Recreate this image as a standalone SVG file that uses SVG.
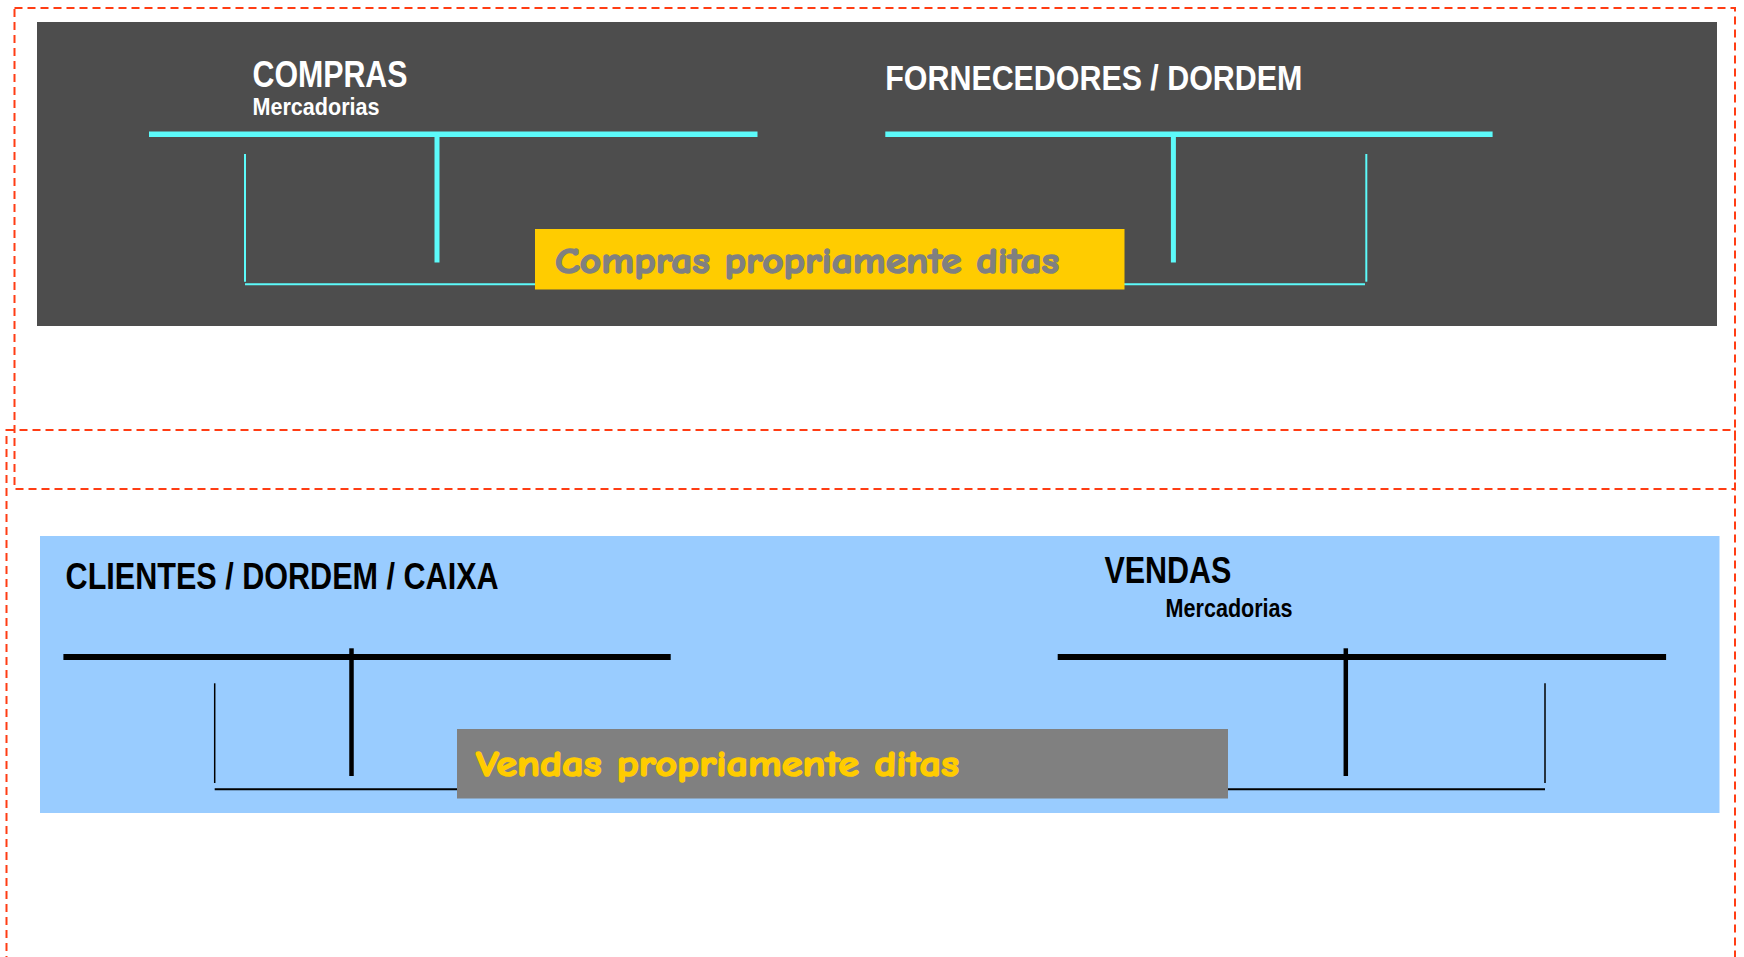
<svg xmlns="http://www.w3.org/2000/svg" width="1744" height="957" viewBox="0 0 1744 957">
<style>
.dash{fill:none;stroke:#FF3D14;stroke-width:2;stroke-dasharray:8 5}
.title{font-family:"Liberation Sans Narrow","Liberation Sans",Arial,sans-serif;font-weight:bold}
.w{fill:#FFFFFF}
.k{fill:#000000}
.cy{stroke:#5CFAFA;fill:none}
.bk{stroke:#000000;fill:none}
.lbl{font-family:"Comic Sans MS","Comic Neue","DejaVu Sans",sans-serif;font-weight:bold;stroke-width:1.6;stroke-linejoin:round}
</style>
<rect width="1744" height="957" fill="#FFFFFF"/>
<g id="frames">
<rect class="dash" x="14.5" y="8" width="1720.5" height="481"/>
<rect class="dash" x="6.5" y="430" width="1728.5" height="560"/>
</g>
<g id="compras-panel">
<rect x="37" y="22" width="1680" height="304" fill="#4D4D4D"/>
</g>
<g id="vendas-panel">
<rect x="40" y="536" width="1679.5" height="277" fill="#99CCFF"/>
</g>
<g id="connectors">
<line class="cy" x1="149" y1="134.3" x2="757.5" y2="134.3" stroke-width="5.5"/>
<line class="cy" x1="437" y1="134" x2="437" y2="262.5" stroke-width="5"/>
<line class="cy" x1="885.3" y1="134.3" x2="1492.6" y2="134.3" stroke-width="5.5"/>
<line class="cy" x1="1173.4" y1="134" x2="1173.4" y2="262.5" stroke-width="5"/>
<line class="cy" x1="245" y1="154" x2="245" y2="281.7" stroke-width="2"/>
<line class="cy" x1="245" y1="284.3" x2="536" y2="284.3" stroke-width="2"/>
<line class="cy" x1="1366.3" y1="154" x2="1366.3" y2="281.7" stroke-width="2"/>
<line class="cy" x1="1124" y1="284.3" x2="1365" y2="284.3" stroke-width="2"/>
<line class="bk" x1="63.4" y1="657" x2="670.7" y2="657" stroke-width="6"/>
<line class="bk" x1="351.5" y1="648.3" x2="351.5" y2="776" stroke-width="4.5"/>
<line class="bk" x1="1057.7" y1="657" x2="1666.1" y2="657" stroke-width="6"/>
<line class="bk" x1="1345.8" y1="648.3" x2="1345.8" y2="776" stroke-width="4.5"/>
<line class="bk" x1="214.7" y1="683.3" x2="214.7" y2="783" stroke-width="1.5"/>
<line class="bk" x1="214.7" y1="789.3" x2="458" y2="789.3" stroke-width="2"/>
<line class="bk" x1="1545" y1="683.3" x2="1545" y2="783" stroke-width="1.5"/>
<line class="bk" x1="1227" y1="789.3" x2="1545" y2="789.3" stroke-width="2"/>
</g>
<g id="compras">
<text class="title w" x="252.5" y="86.8" font-size="36" textLength="155" lengthAdjust="spacingAndGlyphs">COMPRAS</text>
<text class="title w" x="252.5" y="115.3" font-size="23.5" textLength="127" lengthAdjust="spacingAndGlyphs">Mercadorias</text>
</g>
<g id="fornecedores">
<text class="title w" x="885.3" y="89.5" font-size="35.5" textLength="417" lengthAdjust="spacingAndGlyphs">FORNECEDORES / DORDEM</text>
</g>
<g id="compras-label">
<rect x="535" y="229" width="589.5" height="60.5" fill="#FFCC00"/>
<text class="lbl" x="555" y="272.5" font-size="37" fill="#808080" stroke="#808080" textLength="504" lengthAdjust="spacingAndGlyphs">Compras propriamente ditas</text>
</g>
<g id="clientes">
<text class="title k" x="65.6" y="589.4" font-size="36" textLength="433" lengthAdjust="spacingAndGlyphs">CLIENTES / DORDEM / CAIXA</text>
</g>
<g id="vendas">
<text class="title k" x="1104.4" y="583.4" font-size="36" textLength="127" lengthAdjust="spacingAndGlyphs">VENDAS</text>
<text class="title k" x="1165.6" y="617.4" font-size="25" textLength="127" lengthAdjust="spacingAndGlyphs">Mercadorias</text>
</g>
<g id="vendas-label">
<rect x="457" y="729" width="771" height="69.5" fill="#808080"/>
<text class="lbl" x="476" y="776" font-size="37" fill="#FFCC00" stroke="#FFCC00" textLength="483" lengthAdjust="spacingAndGlyphs">Vendas propriamente ditas</text>
</g>
</svg>
